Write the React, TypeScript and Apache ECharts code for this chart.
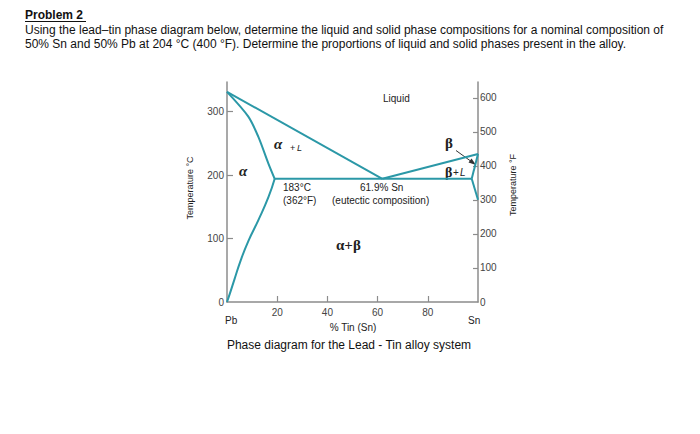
import React, { useEffect, useRef } from "react";
import * as echarts from "echarts";

// Composition (% Sn) vs temperature (°C)
const liquidusLeft = [[0, 331], [61.9, 194]];
const liquidusRight = [[61.9, 194], [100, 233]];
const alphaSolidus = [[0, 331], [8.5, 292], [12.5, 260], [16.5, 218], [19, 194]];
const alphaSolvus = [[19, 194], [16.5, 165], [12.5, 129], [8.5, 96], [5.5, 66], [3, 36], [1.2, 14], [0, 0]];
const eutecticLine = [[19, 194], [97.5, 194]];
const betaSolidus = [[97.5, 194], [100, 233]];
const betaSolvus = [[97.5, 194], [100, 161]];

const xTicks = [20, 40, 60, 80];
const cTicks = [0, 100, 200, 300];
const fTicks = [0, 100, 200, 300, 400, 500, 600];

const titleLines = [
  "Using the lead\u2013tin phase diagram below, determine the liquid and solid phase compositions for a nominal composition of",
  "50% Sn and 50% Pb at 204 \u00B0C (400 \u00B0F). Determine the proportions of liquid and solid phases present in the alloy.",
];

const TEAL = "#2b98a7";
const AXIS = "#8c8c8c";
const SANS = "'Liberation Sans', Arial, sans-serif";
const SERIF = "'Liberation Serif', 'DejaVu Serif', serif";

export default function App() {
  const ref = useRef<HTMLDivElement>(null);
  useEffect(() => {
    if (!ref.current) return;
    const chart = echarts.init(ref.current, null, { renderer: "svg" });
    const mk = (data: number[][], smooth: number | boolean = false) => ({
      type: "line",
      data,
      showSymbol: false,
      smooth,
      silent: true,
      lineStyle: { color: TEAL, width: 2 },
      xAxisIndex: 0,
      yAxisIndex: 0,
    });
    const txt = (x: number, y: number, text: string, o: any = {}) => ({
      type: "text",
      x,
      y,
      silent: true,
      style: {
        text,
        fill: o.fill || "#222",
        font: o.font || `10px ${SANS}`,
        textAlign: o.align || "left",
        textVerticalAlign: "middle",
      },
      rotation: o.rotation || 0,
    });
    chart.setOption({
      animation: false,
      backgroundColor: "#fff",
      grid: { left: 227, right: 222, top: 82, bottom: 132 },
      xAxis: {
        type: "value",
        min: 0,
        max: 100,
        interval: 20,
        axisLine: { lineStyle: { color: AXIS, width: 1.5 } },
        axisTick: { inside: true, length: 6, customValues: xTicks, lineStyle: { color: AXIS, width: 1.2 } },
        axisLabel: { customValues: xTicks, color: "#444", fontSize: 10, fontFamily: SANS, margin: 5 },
        splitLine: { show: false },
      },
      yAxis: [
        {
          type: "value",
          min: 0,
          max: 346.5,
          axisLine: { show: true, lineStyle: { color: AXIS, width: 1.5 } },
          axisTick: { show: true, inside: true, length: 6, customValues: [100, 200, 300], lineStyle: { color: AXIS, width: 1.2 } },
          axisLabel: { customValues: cTicks, color: "#444", fontSize: 10, fontFamily: SANS, margin: 3 },
          splitLine: { show: false },
        },
        {
          type: "value",
          position: "right",
          min: 0,
          max: 647,
          axisLine: { show: true, lineStyle: { color: AXIS, width: 1.5 } },
          axisTick: { show: true, inside: true, length: 5, customValues: fTicks.slice(1), lineStyle: { color: AXIS, width: 1.2 } },
          axisLabel: { customValues: fTicks, color: "#444", fontSize: 10, fontFamily: SANS, margin: 2 },
          splitLine: { show: false },
        },
      ],
      series: [
        mk(liquidusLeft),
        mk(liquidusRight),
        mk(alphaSolidus, 0.3),
        mk(alphaSolvus, 0.5),
        mk(eutecticLine),
        mk(betaSolidus),
        mk(betaSolvus),
      ],
      graphic: [
        txt(25, 15, "Problem 2", { font: `bold 12px ${SANS}`, fill: "#111" }),
        { type: "line", silent: true, shape: { x1: 25, y1: 21.5, x2: 86, y2: 21.5 }, style: { stroke: "#111", lineWidth: 1 } },
        txt(25, 30, titleLines[0], { font: `12px ${SANS}`, fill: "#111" }),
        txt(25, 44, titleLines[1], { font: `12px ${SANS}`, fill: "#111" }),
        txt(383, 98, "Liquid"),
        txt(274, 144, "\u03B1", { font: `italic bold 15px ${SERIF}` }),
        txt(290, 148, "+ ", { font: `9px ${SANS}` }),
        txt(297, 148, "L", { font: `italic 9px ${SANS}` }),
        txt(239, 171, "\u03B1", { font: `italic bold 15px ${SERIF}` }),
        txt(283, 187, "183\u00B0C"),
        txt(283, 200, "(362\u00B0F)"),
        txt(360, 187, "61.9% Sn"),
        txt(332, 200, "(eutectic composition)"),
        txt(336, 245, "\u03B1+\u03B2", { font: `bold 15px ${SERIF}` }),
        txt(445, 143, "\u03B2", { font: `bold 15px ${SERIF}` }),
        txt(445, 172, "\u03B2", { font: `bold 14px ${SERIF}` }),
        txt(453, 172, "+", { font: `10px ${SANS}` }),
        txt(460, 172, "L", { font: `italic 10px ${SANS}` }),
        { type: "line", silent: true, shape: { x1: 456, y1: 150.5, x2: 472, y2: 162 }, style: { stroke: "#333", lineWidth: 1 } },
        { type: "polygon", silent: true, shape: { points: [[476, 165], [468.5, 162.5], [471.5, 158.5]] }, style: { fill: "#333" } },
        txt(225, 320, "Pb"),
        txt(468, 320, "Sn"),
        txt(353, 327, "% Tin (Sn)", { align: "center" }),
        txt(349, 345, "Phase diagram for the Lead - Tin alloy system", { align: "center", font: `12px ${SANS}`, fill: "#111" }),
        txt(190, 188, "Temperature \u00B0C", { align: "center", font: `9px ${SANS}`, rotation: Math.PI / 2 }),
        txt(513, 185, "Temperature \u00B0F", { align: "center", font: `9px ${SANS}`, rotation: Math.PI / 2 }),
      ],
    });
    return () => chart.dispose();
  }, []);
  return <div ref={ref} style={{ position: "fixed", left: 0, top: 0, width: 700, height: 434 }} />;
}
